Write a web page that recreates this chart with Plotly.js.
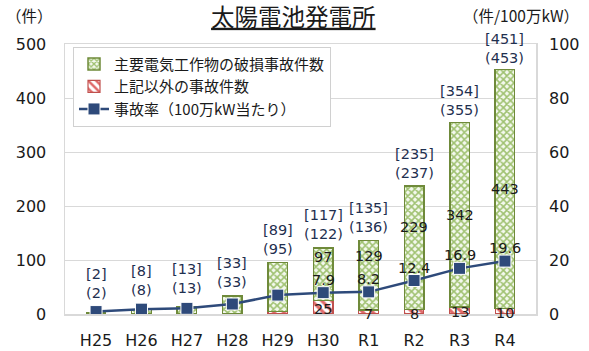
<!DOCTYPE html>
<html>
<head>
<meta charset="utf-8">
<script src="https://cdn.plot.ly/plotly-3.0.1.min.js"></script>
<style>html,body{margin:0;padding:0;background:#fff;}#chart{width:589px;height:351px;}</style>
</head>
<body>
<div id="chart"></div>
<script>
// ---- data ----
const categories = ['H25','H26','H27','H28','H29','H30','R1','R2','R3','R4'];
const mainCounts = [0, 7, 12, 32, 90, 97, 129, 229, 342, 443];   // 主要電気工作物の破損事故件数
const otherCounts = [2, 1, 1, 1, 5, 25, 7, 8, 13, 10];           // 上記以外の事故件数
const bracketCounts = [2, 8, 13, 33, 89, 117, 135, 235, 354, 451];
const accidentRate = [0.9, 1.8, 2.1, 3.7, 7.0, 7.9, 8.2, 12.4, 16.9, 19.6]; // 件/100万kW
const showDetail = [false, false, false, false, false, true, true, true, true, true];

// ---- label offsets (px) ----
const bracketShift = [10, 10, 9, 4, 4, 4, 4, 3, 2, 1];
const mainShift = [0, 0, 0, 0, 0, 17, 19, 21, 0, 0];

const FONT = 'DejaVu Sans, Noto Sans CJK JP, sans-serif';
const totals = categories.map((c, i) => mainCounts[i] + otherCounts[i]);

const traces = [
  {
    type: 'bar', name: '上記以外の事故件数', x: categories, y: otherCounts,
    legendrank: 2,
    marker: { color: '#ffffff', line: { color: '#c0504d', width: 1.2 },
      pattern: { shape: '\\', fgcolor: '#e06a6a', bgcolor: '#ffffff', size: 7, solidity: 0.45 } },
    hoverinfo: 'skip'
  },
  {
    type: 'bar', name: '主要電気工作物の破損事故件数', x: categories, y: mainCounts,
    legendrank: 1,
    marker: { color: '#ffffff', line: { color: '#6f8a3a', width: 1.5 },
      pattern: { shape: 'x', fgcolor: '#9fc170', bgcolor: '#f4f9ee', size: 5, solidity: 0.55 } },
    hoverinfo: 'skip'
  },
  {
    type: 'scatter', mode: 'lines+markers', name: '事故率（100万kW当たり）',
    x: categories, y: accidentRate, yaxis: 'y2', legendrank: 3,
    line: { color: '#2e4a7a', width: 2.5 },
    marker: { symbol: 'square', size: 12, color: '#2e4a7a', line: { color: '#ffffff', width: 1 } },
    hoverinfo: 'skip'
  }
];

const annotations = [];
categories.forEach((c, i) => {
  annotations.push({
    x: c, y: totals[i], xref: 'x', yref: 'y', showarrow: false,
    text: '[' + bracketCounts[i] + ']<br>(' + totals[i] + ')',
    yanchor: 'bottom', yshift: bracketShift[i],
    font: { family: FONT, size: 14.5, color: '#1f3050' }
  });
  if (showDetail[i]) {
    annotations.push({
      x: c, y: otherCounts[i] + mainCounts[i] / 2, xref: 'x', yref: 'y', showarrow: false,
      text: String(mainCounts[i]), yanchor: 'middle', yshift: mainShift[i],
      font: { family: FONT, size: 14.5, color: '#1a1a1a' }
    });
    annotations.push({
      x: c, y: otherCounts[i] / 2, xref: 'x', yref: 'y', showarrow: false,
      text: String(otherCounts[i]), yanchor: 'middle', yshift: -2,
      font: { family: FONT, size: 14.5, color: '#1a1a1a' }
    });
    annotations.push({
      x: c, y: accidentRate[i], xref: 'x', yref: 'y2', showarrow: false,
      text: accidentRate[i].toFixed(1), yanchor: 'middle', yshift: 13,
      font: { family: FONT, size: 14.5, color: '#1a1a1a' }
    });
  }
});
annotations.push({
  xref: 'paper', yref: 'paper', x: -0.076, y: 1.107, xanchor: 'center', yanchor: 'middle', showarrow: false,
  text: '（件）', font: { family: 'Noto Sans CJK JP', size: 15.5, color: '#1a1a1a' }
});
annotations.push({
  xref: 'paper', yref: 'paper', x: 0.968, y: 1.107, xanchor: 'center', yanchor: 'middle', showarrow: false,
  text: '（件/100万kW）', font: { family: 'Noto Sans CJK JP', size: 15.5, color: '#1a1a1a' }
});

const layout = {
  width: 589, height: 351,
  margin: { l: 65, r: 53, t: 44, b: 37 },
  paper_bgcolor: '#ffffff', plot_bgcolor: '#ffffff',
  barmode: 'stack', bargap: 0.57,
  showlegend: true,
  title: {
    text: '<u>太陽電池発電所</u>', x: 0.498, xanchor: 'center', y: 0.95, yanchor: 'middle',
    font: { family: 'Noto Sans CJK JP', size: 23.5, color: '#1a1a1a' }
  },
  legend: {
    x: 0.017, y: 0.99, xanchor: 'left', yanchor: 'top',
    bgcolor: '#ffffff', bordercolor: '#d0d0d0', borderwidth: 1,
    font: { family: 'Noto Sans CJK JP', size: 15, color: '#1a1a1a' },
    traceorder: 'normal', tracegroupgap: 0
  },
  xaxis: {
    type: 'category', showgrid: false, ticks: '',
    showline: true, linecolor: '#d9d9d9', linewidth: 1.5, mirror: true,
    tickfont: { family: FONT, size: 16, color: '#1a1a1a' },
    ticklabelstandoff: 11, fixedrange: true
  },
  yaxis: {
    range: [0, 500], dtick: 100, showgrid: true, gridcolor: '#d9d9d9', gridwidth: 1,
    zeroline: false, showline: true, linecolor: '#d9d9d9', linewidth: 1.5, mirror: true, ticks: '',
    tickfont: { family: FONT, size: 16, color: '#1a1a1a' },
    ticklabelstandoff: 14, fixedrange: true
  },
  yaxis2: {
    overlaying: 'y', side: 'right', range: [0, 100], dtick: 20, showgrid: false,
    zeroline: false, showline: false, ticks: '',
    tickfont: { family: FONT, size: 16, color: '#1a1a1a' },
    ticklabelstandoff: 12, fixedrange: true
  },
  annotations: annotations
};

Plotly.newPlot('chart', traces, layout, { displayModeBar: false, staticPlot: true });
</script>
</body>
</html>
